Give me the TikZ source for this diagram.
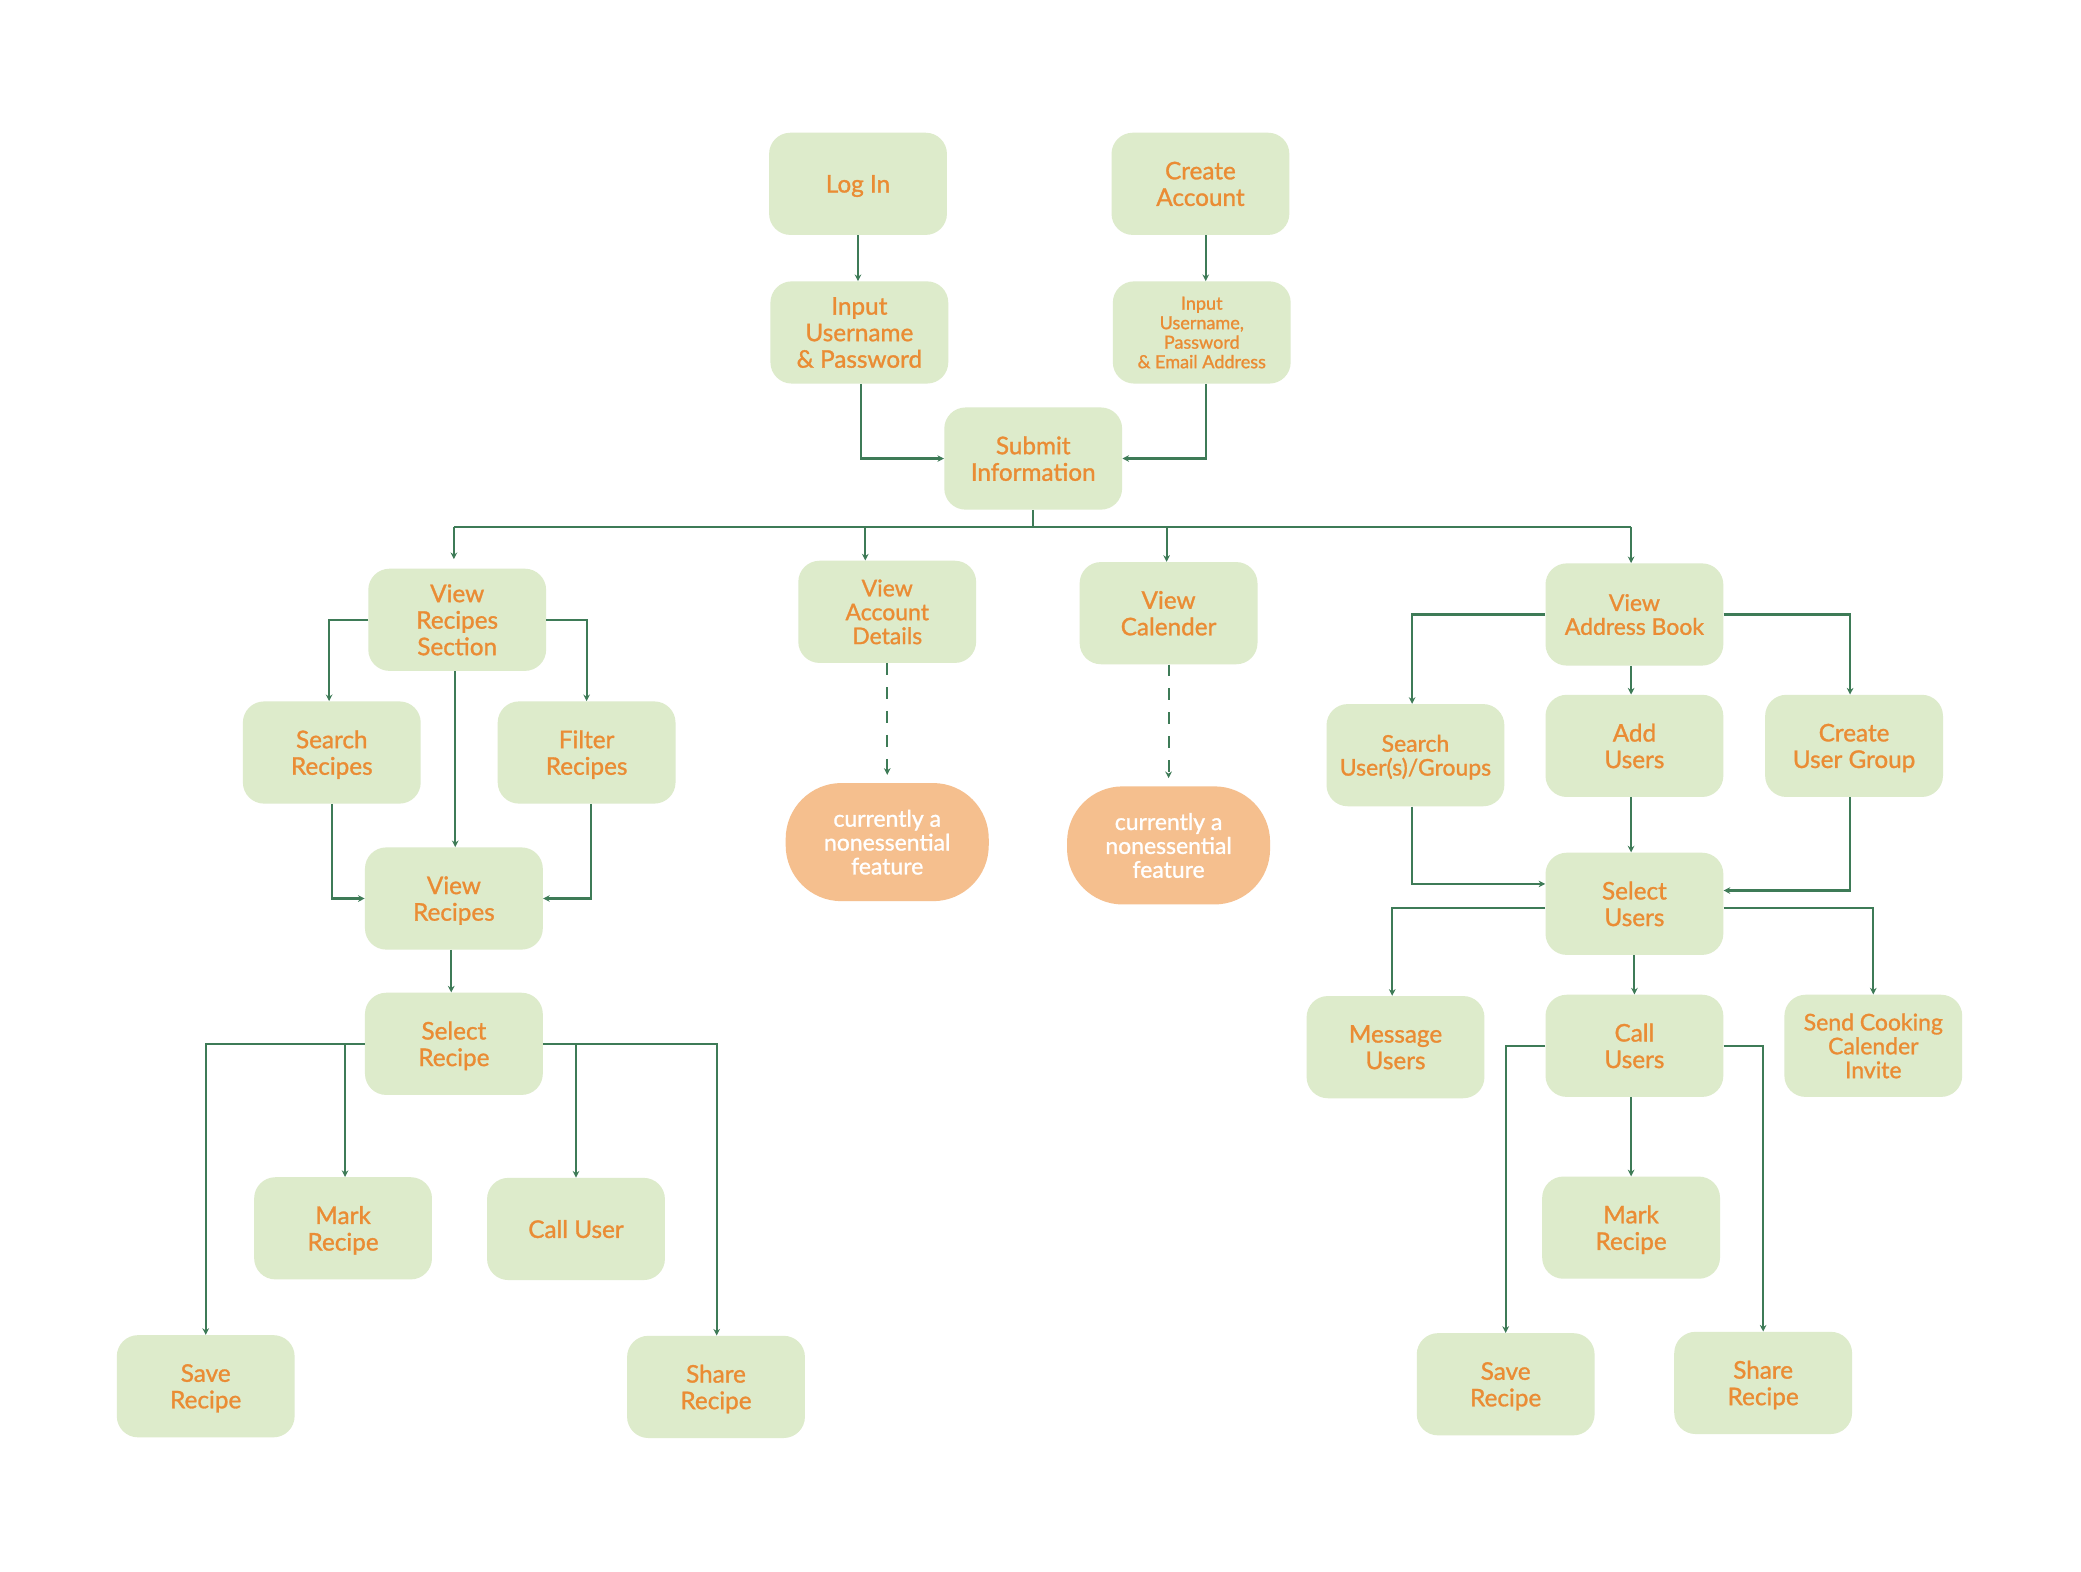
\documentclass[tikz,border=0pt]{standalone}
\usepackage{fontspec}
\setmainfont{Lato}[FakeBold=1.2]
\usetikzlibrary{arrows.meta}
\definecolor{boxfill}{RGB}{221,235,203}
\definecolor{txt}{RGB}{234,140,52}
\definecolor{lnc}{RGB}{62,123,87}
\definecolor{nffill}{RGB}{245,191,142}
\newcommand\fmain{\fontsize{18.3}{20}\selectfont}
\newcommand\fmid{\fontsize{17.3}{18}\selectfont}
\newcommand\fsmall{\fontsize{13.6}{14.7}\selectfont}
\begin{document}
\begin{tikzpicture}[x=1pt,y=-1pt,
  box/.style={rectangle, rounded corners=16pt, fill=boxfill, minimum width=134pt, minimum height=77pt, inner sep=0pt, text=txt, align=center, font=\fmain, text depth=-3pt},
  nf/.style={rectangle, rounded corners=42pt, fill=nffill, minimum width=153pt, minimum height=89pt, inner sep=0pt, text=white, align=center, font=\fmid, text depth=-2pt},
  line/.style={draw=lnc, line width=1.6pt},
  conn/.style={line, -{Stealth[length=5pt,width=5pt]}},
  dconn/.style={conn, dash pattern=on 9pt off 9pt}]
\useasboundingbox (0,0) rectangle (1568,1184);
\fill[white] (0,0) rectangle (1568,1184);
% nodes
\node[box, text depth=-1pt] (login) at (646.5,138.5) {Log In};
\node[box] (create) at (904.5,138.5) {Create\\Account};
\node[box] (inup) at (647.5,250.5) {Input\\Username\\\& Password};
\node[box, font=\fsmall] (inupe) at (905.5,250.5) {Input\\Username,\\Password\\\& Email Address};
\node[box] (submit) at (778.5,345.5) {Submit\\Information};
\node[box] (vrs) at (344.5,467) {View\\Recipes\\Section};
\node[box, font=\fmid] (vad) at (668.5,461) {View\\Account\\Details};
\node[box] (vcal) at (880.5,462) {View\\Calender};
\node[box, font=\fmid] (vab) at (1231.5,463) {View\\Address Book};
\node[box] (srec) at (250,567) {Search\\Recipes};
\node[box] (frec) at (442,567) {Filter\\Recipes};
\node[box] (vrec) at (342,677) {View\\Recipes};
\node[box] (selrec) at (342,786.5) {Select\\Recipe};
\node[box] (markA) at (258.5,925.5) {Mark\\Recipe};
\node[box, text depth=-1pt] (calluser) at (434,926) {Call User};
\node[box] (saveA) at (155,1044.5) {Save\\Recipe};
\node[box] (shareA) at (539.5,1045) {Share\\Recipe};
\node[nf] (nfA) at (668.5,634.5) {currently a\\nonessential\\feature};
\node[nf] (nfB) at (880.5,637) {currently a\\nonessential\\feature};
\node[box, font=\fmid] (susr) at (1066.5,569) {Search\\User(s)/Groups};
\node[box] (addu) at (1231.5,562) {Add\\Users};
\node[box] (cug) at (1397,562) {Create\\User Group};
\node[box] (selu) at (1231.5,681) {Select\\Users};
\node[box] (msg) at (1051.5,789) {Message\\Users};
\node[box] (callu) at (1231.5,788) {Call\\Users};
\node[box, font=\fmid] (send) at (1411.5,788) {Send Cooking\\Calender\\Invite};
\node[box] (markB) at (1229,925) {Mark\\Recipe};
\node[box] (saveB) at (1134.5,1043) {Save\\Recipe};
\node[box] (shareB) at (1328.5,1042) {Share\\Recipe};
\coordinate (busL) at (342,397);
\coordinate (busR) at (1229,397);
% connectors
\draw[conn] (login.south) -- (login.south |- inup.north);
\draw[conn] ([xshift=4pt]create.south) -- ([xshift=4pt]create.south |- inupe.north);
\draw[conn] ([xshift=1pt]inup.south) |- (submit.west);
\draw[conn] ([xshift=3.5pt]inupe.south) |- (submit.east);
\draw[line] (submit.south) -- (submit.south |- busL);
\draw[line] (busL) -- (busR);
\draw[conn, shorten >=7pt] (busL) -- ([xshift=-2.5pt]vrs.north);
\draw[conn] ([xshift=-16.5pt]vad.north |- busL) -- ([xshift=-16.5pt]vad.north);
\draw[conn] ([xshift=-1.5pt]vcal.north |- busL) -- ([xshift=-1.5pt]vcal.north);
\draw[conn] (busR) -- ([xshift=-2.5pt]vab.north);
\draw[conn] (vrs.west) -| ([xshift=-2pt]srec.north);
\draw[conn] (vrs.east) -| (frec.north);
\draw[conn] ([xshift=-1.5pt]vrs.south) -- ([xshift=-1.5pt]vrs.south |- vrec.north);
\draw[conn] (srec.south) |- (vrec.west);
\draw[conn] ([xshift=3pt]frec.south) |- (vrec.east);
\draw[conn] ([xshift=-2pt]vrec.south) -- ([xshift=-2pt]selrec.north);
\draw[conn] (selrec.west) -| (saveA.north);
\draw[conn] ([xshift=1.5pt]markA.north |- selrec.west) -- ([xshift=1.5pt]markA.north);
\draw[conn] (selrec.east) -| (calluser.north);
\draw[conn] (selrec.east) -| ([xshift=0.5pt]shareA.north);
\draw[dconn, shorten >=6pt] (vad.south) -- (nfA.north);
\draw[dconn, shorten >=6pt] (vcal.south) -- (nfB.north);
\draw[conn] (vab.west) -| ([xshift=-2.5pt]susr.north);
\draw[conn] ([xshift=-2.5pt]vab.south) -- ([xshift=-2.5pt]addu.north);
\draw[conn] (vab.east) -| ([xshift=-3pt]cug.north);
\draw[conn] ([xshift=-2.5pt]susr.south) |- ([yshift=15pt]selu.west);
\draw[conn] ([xshift=-2.5pt]addu.south) -- ([xshift=-2.5pt]selu.north);
\draw[conn] ([xshift=-3pt]cug.south) |- ([yshift=10pt]selu.east);
\draw[conn] ([yshift=-3pt]selu.west) -| ([xshift=-2.5pt]msg.north);
\draw[conn] (selu.south) -- (callu.north);
\draw[conn] ([yshift=-3pt]selu.east) -| (send.north);
\draw[conn] (callu.west) -| (saveB.north);
\draw[conn] ([xshift=-2.5pt]callu.south) -- ([xshift=-2.5pt]callu.south |- markB.north);
\draw[conn] (callu.east) -| (shareB.north);
\end{tikzpicture}
\end{document}
